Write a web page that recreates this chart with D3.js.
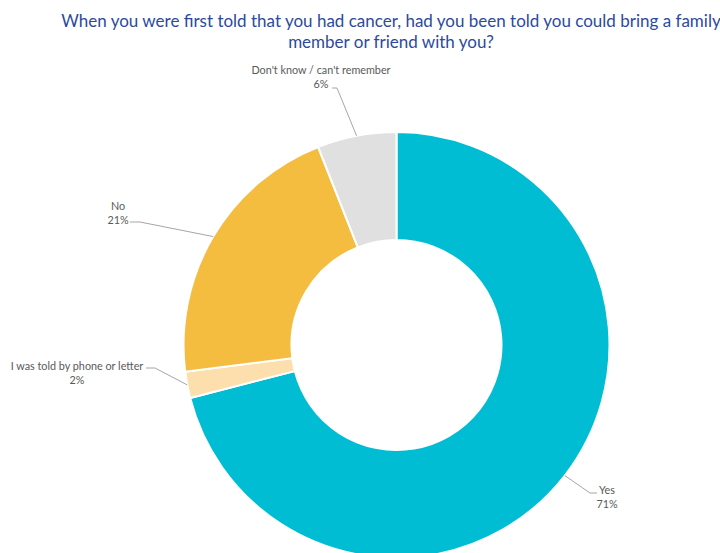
<!DOCTYPE html>
<html>
<head>
<meta charset="utf-8">
<script src="https://cdn.jsdelivr.net/npm/d3@7"></script>
<style>
  html, body { margin: 0; padding: 0; background: #fff; }
  svg { display: block; font-family: Lato, "Open Sans", sans-serif; }
</style>
</head>
<body>
<svg id="chart" width="720" height="553"></svg>
<script>
// Survey responses, in drawing order (clockwise from 12 o'clock)
const categories = ["Yes", "I was told by phone or letter", "No", "Don't know / can't remember"];
const values = [71, 2, 21, 6];
const colors = ["#00BDD3", "#FDDFAE", "#F4BD3F", "#E0E0E0"];
const valueLabels = ["71%", "2%", "21%", "6%"];

const titleLines = [
  "When you were first told that you had cancer, had you been told you could bring a family",
  "member or friend with you?"
];

const svg = d3.select("#chart");
const cx = 396.5, cy = 345;
const outerR = 213, innerR = 105;

// Title
svg.append("g").selectAll("text")
  .data(titleLines)
  .join("text")
  .attr("x", 391)
  .attr("y", (d, i) => 27 + i * 21)
  .attr("text-anchor", "middle")
  .attr("fill", "#2C4A9C")
  .attr("font-size", "17px")
  .text(d => d);

const data = categories.map((c, i) => ({ name: c, value: values[i], color: colors[i], label: valueLabels[i] }));

const pie = d3.pie().value(d => d.value).sort(null);
const arcs = pie(data);
const arc = d3.arc().innerRadius(innerR).outerRadius(outerR);

const g = svg.append("g").attr("transform", `translate(${cx},${cy})`);

g.selectAll("path")
  .data(arcs)
  .join("path")
  .attr("d", arc)
  .attr("fill", d => d.data.color)
  .attr("stroke", "#fff")
  .attr("stroke-width", 2);

// Label placement for each slice: text anchor point and leader elbow
const labelLayout = {
  "Yes": { tx: 607, ty: 494, elbow: [590, 493], end: [597, 493] },
  "I was told by phone or letter": { tx: 77, ty: 370, elbow: [155, 368], end: [146, 368] },
  "No": { tx: 118, ty: 210, elbow: [140, 222], end: [130, 222] },
  "Don't know / can't remember": { tx: 321, ty: 74, elbow: [337, 88], end: [332, 88] }
};

const labels = svg.append("g");
arcs.forEach(a => {
  const L = labelLayout[a.data.name];
  const mid = (a.startAngle + a.endAngle) / 2;
  const px = cx + Math.sin(mid) * outerR;
  const py = cy - Math.cos(mid) * outerR;
  labels.append("polyline")
    .attr("points", [[px, py], L.elbow, L.end].map(p => p.join(",")).join(" "))
    .attr("fill", "none")
    .attr("stroke", "#A6A6A6")
    .attr("stroke-width", 1);
  const t = labels.append("text")
    .attr("text-anchor", "middle")
    .attr("fill", "#595959")
    .attr("font-size", "10.8px");
  t.append("tspan").attr("x", L.tx).attr("y", L.ty).text(a.data.name);
  t.append("tspan").attr("x", L.tx).attr("y", L.ty + 13.5).text(a.data.label);
});
</script>
</body>
</html>
